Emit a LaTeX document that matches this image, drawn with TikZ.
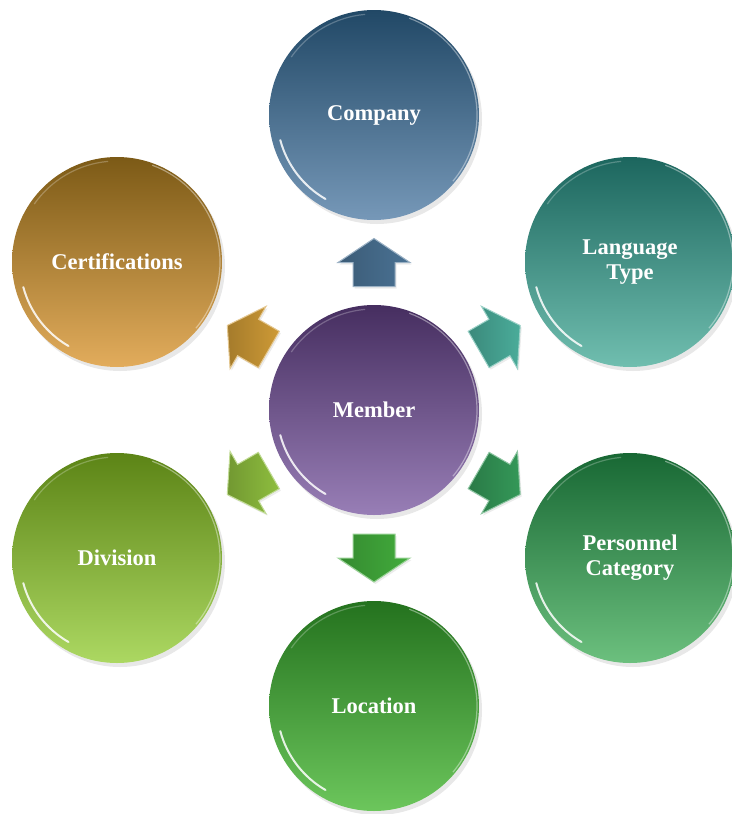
\documentclass[tikz,border=0pt]{standalone}
\usepackage{fontspec}
\setmainfont{Liberation Serif}
\usetikzlibrary{calc,shadows}
\definecolor{coT}{RGB}{33,72,102}\definecolor{coB}{RGB}{118,152,184}
\definecolor{laT}{RGB}{28,102,94}\definecolor{laB}{RGB}{112,190,175}
\definecolor{peT}{RGB}{24,104,52}\definecolor{peB}{RGB}{108,192,126}
\definecolor{loT}{RGB}{36,114,30}\definecolor{loB}{RGB}{108,198,92}
\definecolor{diT}{RGB}{92,132,22}\definecolor{diB}{RGB}{172,216,98}
\definecolor{ceT}{RGB}{124,90,22}\definecolor{ceB}{RGB}{226,172,92}
\definecolor{meT}{RGB}{70,46,96}\definecolor{meB}{RGB}{152,126,182}
\definecolor{coA}{RGB}{74,114,148}
\definecolor{laA}{RGB}{74,172,154}
\definecolor{peA}{RGB}{52,152,88}
\definecolor{loA}{RGB}{66,172,60}
\definecolor{diA}{RGB}{142,190,62}
\definecolor{ceA}{RGB}{206,154,54}
\newcommand{\bubfont}{\fontsize{22.5}{25}\selectfont\bfseries}
\tikzset{
  bub/.style={circle, minimum size=210pt, inner sep=0pt, font=\bubfont, text=white, align=center,
    drop shadow={opacity=0.18, shadow xshift=3pt, shadow yshift=-4pt}},
  glint/.style={white, line width=2pt, line cap=round, opacity=0.85},
  rim/.style={white, line width=1.2pt, opacity=0.4},
  arrbody/.style={draw=#1!55!white, line width=1pt, line join=miter,
    left color=#1!80!black, right color=#1,
    drop shadow={opacity=0.15, shadow xshift=1.5pt, shadow yshift=-2pt}}
}
\newcommand{\blockarrow}[3]{% position, angle, colour
  \begin{scope}[shift={#1}, rotate=#2]
    \path[arrbody=#3] (-24,21) -- (0,21) -- (0,36) -- (24,0) -- (0,-36) -- (0,-21) -- (-24,-21) -- cycle;
  \end{scope}}
\begin{document}
\begin{tikzpicture}[x=1pt,y=1pt]
\useasboundingbox (0,0) rectangle (731,-814);
\node[bub, top color=meT, bottom color=meB] (me) at (374,-410) {Member};
\node[bub, top color=coT, bottom color=coB] (co) at (374,-115) {Company};
\node[bub, top color=laT, bottom color=laB] (la) at (630,-262) {Language\\Type};
\node[bub, top color=peT, bottom color=peB] (pe) at (630,-558) {Personnel\\Category};
\node[bub, top color=loT, bottom color=loB] (lo) at (374,-706) {Location};
\node[bub, top color=diT, bottom color=diB] (di) at (117,-558) {Division};
\node[bub, top color=ceT, bottom color=ceB] (ce) at (117,-262) {Certifications};
\foreach \n in {me,co,la,pe,lo,di,ce}{
  \draw[glint] ([shift={(195:97)}]\n.center) arc[start angle=195, end angle=240, radius=97];
  \draw[rim] ([shift={(-40:103)}]\n.center) arc[start angle=-40, end angle=70, radius=103];
  \draw[rim, opacity=0.25] ([shift={(95:101)}]\n.center) arc[start angle=95, end angle=145, radius=101];
}
\coordinate (aco) at ($(me)!0.5!(co)$);
\coordinate (ala) at ($(me)!0.49!(la)$);
\coordinate (ape) at ($(me)!0.49!(pe)$);
\coordinate (alo) at ($(me)!0.5!(lo)$);
\coordinate (adi) at ($(me)!0.49!(di)$);
\coordinate (ace) at ($(me)!0.49!(ce)$);
\blockarrow{(aco)}{90}{coA}
\blockarrow{(ala)}{30}{laA}
\blockarrow{(ape)}{-30}{peA}
\blockarrow{(alo)}{-90}{loA}
\blockarrow{(adi)}{210}{diA}
\blockarrow{(ace)}{150}{ceA}
\end{tikzpicture}
\end{document}
